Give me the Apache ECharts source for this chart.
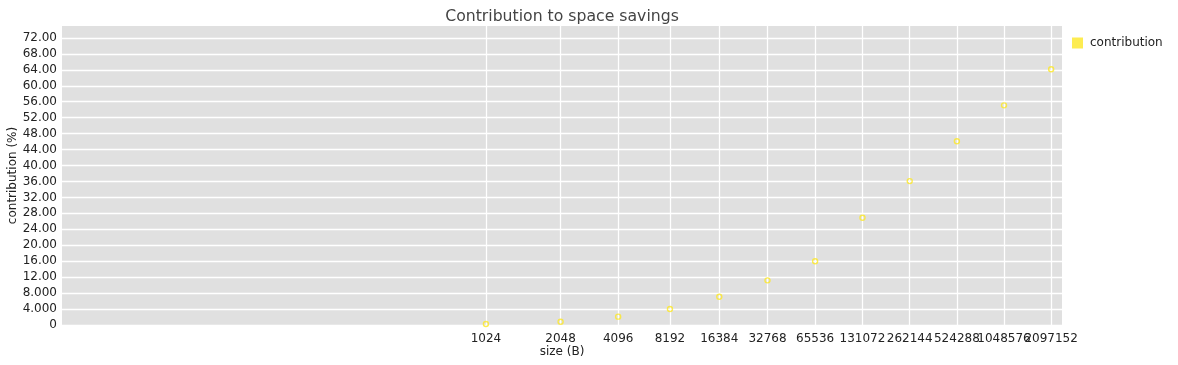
<!DOCTYPE html>
<html>
<head>
<meta charset="utf-8">
<script src="https://cdn.jsdelivr.net/npm/echarts@6/dist/echarts.min.js"></script>
<style>
html,body{margin:0;padding:0;background:#fff;}
#chart{width:1178px;height:365px;}
</style>
</head>
<body>
<div id="chart"></div>
<script>
// sizes in bytes (x categories / tick labels)
const sizes = [1024, 2048, 4096, 8192, 16384, 32768, 65536, 131072, 262144, 524288, 1048576, 2097152];
// contribution to space savings (%)
const contribution = [0.25, 0.8, 2.1, 4.0, 7.1, 11.2, 16.0, 26.9, 36.1, 46.1, 55.1, 64.15];
// y tick values
const yTicks = [0, 4, 8, 12, 16, 20, 24, 28, 32, 36, 40, 44, 48, 52, 56, 60, 64, 68, 72];

// the reference x scale behaves like log2(size - 512)
const X_OFFSET = 512;
const toX = s => Math.log2(s - X_OFFSET);
const fromX = v => Math.round(Math.pow(2, v) + X_OFFSET);

const xTicks = sizes.map(toX);
// labels split over two stacked axes so crowded neighbours are not auto-hidden
const xTicksA = xTicks.filter((v, i) => i % 2 === 0);
const xTicksB = xTicks.filter((v, i) => i % 2 === 1);
const points = sizes.map((s, i) => [toX(s), contribution[i]]);

const chart = echarts.init(document.getElementById('chart'));
const FONT = 'DejaVu Sans';
const X_MAX = 21.23;
const xLabelStyle = {
  margin: 8, hideOverlap: false, interval: 0,
  showMinLabel: true, showMaxLabel: true,
  fontFamily: FONT, fontSize: 12, color: '#222',
  formatter: v => String(fromX(v))
};
chart.setOption({
  animation: false,
  textStyle: {fontFamily: FONT},
  title: {
    text: 'Contribution to space savings',
    left: 562, top: 9, textAlign: 'center', padding: 0,
    textStyle: {fontFamily: FONT, fontSize: 15.7, fontWeight: 'normal', color: '#444'}
  },
  legend: {
    left: 1072, top: 37, orient: 'vertical', padding: 0,
    itemWidth: 11, itemHeight: 11, itemGap: 6,
    textStyle: {fontFamily: FONT, fontSize: 12, color: '#222', padding: [0, 0, 0, 2]},
    data: [{name: 'contribution', icon: 'rect', itemStyle: {color: '#fde725', borderWidth: 0}}]
  },
  grid: {
    left: 62, right: 116, top: 26, bottom: 40,
    outerBoundsMode: 'none', containLabel: false,
    show: true, backgroundColor: '#e0e0e0', borderWidth: 0
  },
  xAxis: [{
    type: 'value', min: 0, max: X_MAX, position: 'bottom',
    name: 'size (B)', nameLocation: 'middle', nameGap: 21, nameMoveOverlap: false,
    nameTextStyle: {fontFamily: FONT, fontSize: 12, color: '#222'},
    axisLine: {show: false},
    axisTick: {show: false, customValues: xTicks},
    axisLabel: Object.assign({customValues: xTicksA}, xLabelStyle),
    splitLine: {show: true, lineStyle: {color: '#fff', width: 1.3}}
  }, {
    type: 'value', min: 0, max: X_MAX, position: 'bottom', offset: 0,
    axisLine: {show: false},
    axisTick: {show: false, customValues: xTicksB},
    axisLabel: Object.assign({customValues: xTicksB}, xLabelStyle),
    splitLine: {show: false}
  }],
  yAxis: {
    type: 'value', min: 0, max: 75,
    name: 'contribution (%)', nameLocation: 'middle', nameGap: 43, nameMoveOverlap: false,
    nameTextStyle: {fontFamily: FONT, fontSize: 12, color: '#222'},
    axisLine: {show: false},
    axisTick: {show: false, customValues: yTicks},
    axisLabel: {
      customValues: yTicks, margin: 5, interval: 0,
      showMinLabel: true, showMaxLabel: true,
      fontFamily: FONT, fontSize: 12, color: '#222',
      formatter: v => v === 0 ? '0' : Number(v).toPrecision(4)
    },
    splitLine: {show: true, lineStyle: {color: '#fff', width: 1.3}}
  },
  series: [{
    name: 'contribution',
    type: 'scatter',
    xAxisIndex: 0,
    data: points,
    symbol: 'circle',
    symbolSize: 5,
    itemStyle: {color: 'rgba(0,0,0,0)', borderColor: '#fde725', borderWidth: 1.4}
  }]
});
</script>
</body>
</html>
